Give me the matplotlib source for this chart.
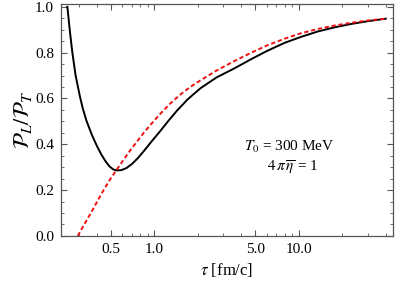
import matplotlib
matplotlib.use("Agg")
import matplotlib.pyplot as plt
import matplotlib.ticker as mticker

# --- valores ---
tau_visc = [0.25, 0.26, 0.27, 0.285, 0.305, 0.32, 0.34, 0.37, 0.40, 0.43,
            0.46, 0.49, 0.52, 0.55, 0.59, 0.64, 0.70, 0.77, 0.85, 0.95,
            1.10, 1.25, 1.44, 1.70, 2.09, 2.70, 3.55, 4.70, 6.06, 8.00,
            10.3, 13.5, 17.6, 23.0, 30.0, 40.0]
ratio_visc = [1.000, 0.895, 0.805, 0.700, 0.610, 0.555, 0.500, 0.440, 0.393,
              0.355, 0.325, 0.303, 0.290, 0.286, 0.287, 0.296, 0.314, 0.340,
              0.372, 0.410, 0.458, 0.502, 0.548, 0.596, 0.645, 0.692, 0.730,
              0.772, 0.808, 0.843, 0.868, 0.892, 0.910, 0.925, 0.937, 0.948]

tau_ns = [0.295, 0.32, 0.35, 0.38, 0.41, 0.45, 0.50, 0.55, 0.61, 0.68,
          0.76, 0.85, 0.95, 1.10, 1.28, 1.50, 1.78, 2.10, 2.70, 3.55,
          4.70, 6.06, 8.00, 10.3, 13.5, 17.6, 23.0, 30.0, 40.0]
ratio_ns = [0.000, 0.040, 0.082, 0.122, 0.160, 0.205, 0.252, 0.290, 0.331,
            0.373, 0.413, 0.452, 0.488, 0.533, 0.576, 0.615, 0.651, 0.680,
            0.722, 0.762, 0.800, 0.832, 0.861, 0.884, 0.903, 0.918, 0.930,
            0.940, 0.948]

xticks = [0.5, 1.0, 5.0, 10.0]
xticklabels = ["0.5", "1.0", "5.0", "10.0"]
yticks = [0.0, 0.2, 0.4, 0.6, 0.8, 1.0]

plt.rcParams['font.family'] = ['Liberation Serif', 'DejaVu Serif']
plt.rcParams['mathtext.fontset'] = 'stix'

FRAME = '#555555'

fig = plt.figure(figsize=(4.07, 2.92), dpi=100)
ax = fig.add_axes([0.150, 0.192, 0.816, 0.795])

ax.plot(tau_visc, ratio_visc, color='black', lw=1.4, solid_joinstyle='round')
ax.plot(tau_ns, ratio_ns, color='#ee1111', lw=1.4, dashes=(2.2, 1.4))

ax.set_xscale('log')
ax.set_xlim(0.226, 45.0)
ax.set_ylim(0.0, 1.013)

ax.xaxis.set_major_locator(mticker.FixedLocator(xticks))
ax.xaxis.set_major_formatter(mticker.FixedFormatter(xticklabels))
ax.xaxis.set_minor_locator(mticker.LogLocator(base=10, subs=range(1, 10)))
ax.xaxis.set_minor_formatter(mticker.NullFormatter())
ax.set_yticks(yticks)
ax.yaxis.set_major_formatter(mticker.FormatStrFormatter('%.1f'))
ax.yaxis.set_minor_locator(mticker.MultipleLocator(0.05))

ax.tick_params(which='both', direction='in', top=True, right=True,
               color=FRAME, labelsize=11, pad=5)
ax.tick_params(which='major', length=4, width=0.8)
ax.tick_params(which='minor', length=2, width=0.6)
for s in ax.spines.values():
    s.set_color(FRAME)
    s.set_linewidth(0.9)

ax.set_xlabel(r"$\tau$ [fm/c]", fontsize=12, labelpad=4)
ax.set_ylabel(r"$\mathcal{P}_L/\mathcal{P}_T$", fontsize=16, labelpad=1)

ax.text(0.687, 0.384, r"$T_0$ = 300 MeV", transform=ax.transAxes,
        ha='center', va='center', fontsize=11)
ax.text(0.696, 0.293, r"$4\,\pi\,\overline{\eta}$ = 1", transform=ax.transAxes,
        ha='center', va='center', fontsize=11)

fig.savefig("out.png", dpi=100)
